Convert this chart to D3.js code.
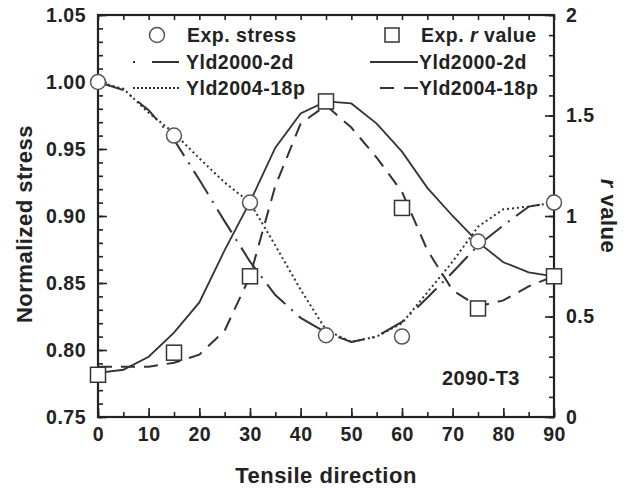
<!DOCTYPE html>
<html>
<head>
<meta charset="utf-8">
<script src="https://cdn.jsdelivr.net/npm/d3@7"></script>
<style>
  body { margin: 0; background: #fff; }
  svg text { font-family: "Liberation Sans", Arial, sans-serif; font-weight: bold; fill: #222; letter-spacing: 0.5px; }
</style>
</head>
<body>
<div id="place"></div>
<script>
// tensile direction (deg) for model curves
const angles = [0, 5, 10, 15, 20, 25, 30, 35, 40, 45, 50, 55, 60, 65, 70, 75, 80, 85, 90];
const stressYld2000 = [1.000, 0.994, 0.979, 0.957, 0.927, 0.896, 0.866, 0.841, 0.824, 0.813, 0.806, 0.810, 0.821, 0.839, 0.858, 0.878, 0.893, 0.907, 0.910];
const stressYld2004 = [1.000, 0.995, 0.977, 0.962, 0.943, 0.925, 0.910, 0.878, 0.845, 0.815, 0.806, 0.810, 0.820, 0.843, 0.866, 0.892, 0.905, 0.907, 0.910];
const rYld2000 = [0.22, 0.235, 0.30, 0.42, 0.57, 0.83, 1.07, 1.34, 1.51, 1.57, 1.56, 1.46, 1.32, 1.14, 1.00, 0.87, 0.77, 0.72, 0.70];
const rYld2004 = [0.25, 0.25, 0.25, 0.27, 0.31, 0.43, 0.70, 1.15, 1.46, 1.55, 1.44, 1.29, 1.12, 0.83, 0.63, 0.55, 0.58, 0.65, 0.70];

// experiments
const expAngles = [0, 15, 30, 45, 60, 75, 90];
const expStress = [1.000, 0.960, 0.910, 0.811, 0.810, 0.881, 0.910];
const expR = [0.21, 0.32, 0.70, 1.57, 1.04, 0.54, 0.70];

const xTicks = [0, 10, 20, 30, 40, 50, 60, 70, 80, 90];
const yTicks = [0.75, 0.80, 0.85, 0.90, 0.95, 1.00, 1.05];
const rTicks = [0, 0.5, 1, 1.5, 2];

const W = 630, H = 488;
const margin = { top: 15, right: 76, bottom: 71, left: 98 },
  width = W - margin.left - margin.right,
  height = H - margin.top - margin.bottom;

const svg = d3.select("#place").append("svg")
  .attr("width", W).attr("height", H);
const g = svg.append("g")
  .attr("transform", "translate(" + margin.left + "," + margin.top + ")");

const x = d3.scaleLinear().domain([0, 90]).range([0, width]);
const y = d3.scaleLinear().domain([0.75, 1.05]).range([height, 0]);
const yr = d3.scaleLinear().domain([0, 2]).range([height, 0]);

const ink = "#222";

// ticks pointing inside, no labels
function ticksOnly(axis, scale, vals, len) {
  return axis(scale).tickValues(vals).tickSize(len).tickFormat("");
}
const xMinor = d3.range(0, 91, 5);
const yMinor = d3.range(0, 31).map(i => +(0.75 + i * 0.01).toFixed(2));
const rMinor = d3.range(0, 21).map(i => +(i * 0.1).toFixed(1));

const axes = g.append("g").attr("class", "axes");
axes.append("g").attr("transform", "translate(0," + height + ")").call(ticksOnly(d3.axisTop, x, xMinor, 5));
axes.append("g").attr("transform", "translate(0," + height + ")").call(ticksOnly(d3.axisTop, x, xTicks, 9));
axes.append("g").call(ticksOnly(d3.axisBottom, x, xMinor, 5));
axes.append("g").call(ticksOnly(d3.axisRight, y, yMinor, 5));
axes.append("g").call(ticksOnly(d3.axisRight, y, yTicks, 9));
axes.append("g").attr("transform", "translate(" + width + ",0)").call(ticksOnly(d3.axisLeft, yr, rMinor, 5));
axes.append("g").attr("transform", "translate(" + width + ",0)").call(ticksOnly(d3.axisLeft, yr, rTicks, 9));
axes.selectAll(".domain").remove();
axes.selectAll("line").attr("stroke", ink).attr("stroke-width", 1.6);

// tick labels
const xl = g.append("g").attr("transform", "translate(0," + height + ")")
  .call(d3.axisBottom(x).tickValues(xTicks).tickSize(0).tickPadding(9));
const yl = g.append("g")
  .call(d3.axisLeft(y).tickValues(yTicks).tickSize(0).tickPadding(12).tickFormat(d3.format(".2f")));
const rl = g.append("g").attr("transform", "translate(" + width + ",0)")
  .call(d3.axisRight(yr).tickValues(rTicks).tickSize(0).tickPadding(12).tickFormat(d => d));
[xl, yl, rl].forEach(a => {
  a.select(".domain").remove();
  a.selectAll("text").style("font-size", "19.5px").style("font-family", null).attr("fill", ink);
});
xl.selectAll("text").attr("dy", "0.75em");

// frame
g.append("rect").attr("width", width).attr("height", height)
  .attr("fill", "none").attr("stroke", ink).attr("stroke-width", 2.2);

// curves
const lineS = d3.line().x((d, i) => x(angles[i])).y(d => y(d));
const lineR = d3.line().x((d, i) => x(angles[i])).y(d => yr(d));

g.append("path").datum(stressYld2000).attr("d", lineS)
  .attr("fill", "none").attr("stroke", "#333").attr("stroke-width", 2).attr("stroke-dasharray", "27,8,2,8");
g.append("path").datum(stressYld2004).attr("d", lineS)
  .attr("fill", "none").attr("stroke", "#333").attr("stroke-width", 2).attr("stroke-dasharray", "2,3");
g.append("path").datum(rYld2000).attr("d", lineR)
  .attr("fill", "none").attr("stroke", "#333").attr("stroke-width", 1.8);
g.append("path").datum(rYld2004).attr("d", lineR)
  .attr("fill", "none").attr("stroke", "#333").attr("stroke-width", 2).attr("stroke-dasharray", "14,9");

// markers
g.selectAll("circle.exp").data(expStress).enter().append("circle")
  .attr("class", "exp")
  .attr("cx", (d, i) => x(expAngles[i])).attr("cy", d => y(d)).attr("r", 7.5)
  .attr("fill", "#fff").attr("stroke", "#555").attr("stroke-width", 1.5);
g.selectAll("rect.exp").data(expR).enter().append("rect")
  .attr("class", "exp")
  .attr("x", (d, i) => x(expAngles[i]) - 7.5).attr("y", d => yr(d) - 7.5)
  .attr("width", 15).attr("height", 15)
  .attr("fill", "#fff").attr("stroke", "#333").attr("stroke-width", 1.5);

// legend
const leg = svg.append("g").style("font-size", "19.5px");
function legText(px, py, t) {
  return leg.append("text").attr("x", px).attr("y", py).attr("dy", "0.35em").text(t);
}
leg.append("circle").attr("cx", 157).attr("cy", 35).attr("r", 7.5)
  .attr("fill", "#fff").attr("stroke", "#555").attr("stroke-width", 1.5);
legText(187, 35, "Exp. stress");
leg.append("rect").attr("x", 385).attr("y", 28).attr("width", 14).attr("height", 14)
  .attr("fill", "#fff").attr("stroke", "#333").attr("stroke-width", 1.5);
const tr = legText(421, 35, "Exp. ");
tr.append("tspan").style("font-style", "italic").text("r");
tr.append("tspan").text(" value");

leg.append("line").attr("x1", 133).attr("x2", 179).attr("y1", 62).attr("y2", 62)
  .attr("stroke", "#333").attr("stroke-width", 2).attr("stroke-dasharray", "2,17,27");
legText(186, 62, "Yld2000-2d");
leg.append("line").attr("x1", 370).attr("x2", 418).attr("y1", 62).attr("y2", 62)
  .attr("stroke", "#333").attr("stroke-width", 2);
legText(419, 62, "Yld2000-2d");

leg.append("line").attr("x1", 133).attr("x2", 179).attr("y1", 88).attr("y2", 88)
  .attr("stroke", "#333").attr("stroke-width", 2).attr("stroke-dasharray", "2,2");
legText(186, 88, "Yld2004-18p");
leg.append("line").attr("x1", 380).attr("x2", 418).attr("y1", 88).attr("y2", 88)
  .attr("stroke", "#333").attr("stroke-width", 2).attr("stroke-dasharray", "14,10");
legText(419, 88, "Yld2004-18p");

// material label
svg.append("text").attr("x", 481).attr("y", 378).attr("dy", "0.35em")
  .attr("text-anchor", "middle").style("font-size", "20px").text("2090-T3");

// axis titles
svg.append("text").attr("x", margin.left + width / 2).attr("y", 475).attr("dy", "0.35em")
  .attr("text-anchor", "middle").style("font-size", "22px").text("Tensile direction");
svg.append("text").attr("transform", "translate(24," + (margin.top + height / 2 + 8) + ") rotate(-90)")
  .attr("dy", "0.35em").attr("text-anchor", "middle").style("font-size", "22px").text("Normalized stress");
const rt = svg.append("text").attr("transform", "translate(609," + (margin.top + height / 2) + ") rotate(90)")
  .attr("dy", "0.35em").attr("text-anchor", "middle").style("font-size", "22px");
rt.append("tspan").style("font-style", "italic").text("r");
rt.append("tspan").text(" value");
</script>
</body>
</html>
